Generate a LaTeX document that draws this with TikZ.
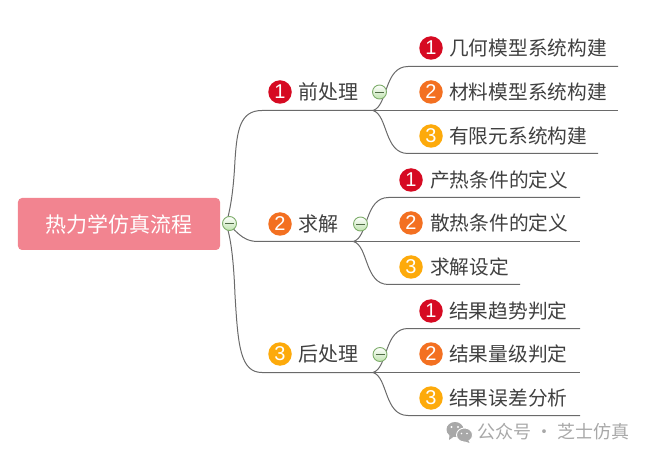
\documentclass[tikz,border=0pt]{standalone}
\usepackage{fontspec}
\setmainfont{Noto Sans CJK SC}
\newfontfamily\numfont{Liberation Sans}
\definecolor{linec}{HTML}{6A6A6A}
\definecolor{txt}{HTML}{404040}
\definecolor{rootc}{HTML}{F28490}
\definecolor{bred}{HTML}{D60A22}
\definecolor{borg}{HTML}{F37021}
\definecolor{byel}{HTML}{FDAA0B}
\definecolor{wm}{HTML}{A8A8A8}
\definecolor{foldb}{HTML}{7FAE6C}
\definecolor{foldf}{HTML}{BFE3AE}
\definecolor{foldm}{HTML}{4F6B45}
\tikzset{
  conn/.style={draw=linec,line width=1bp},
  lab/.style={anchor=west,inner sep=0pt,text=txt,font=\fontsize{19.7bp}{20bp}\selectfont},
  labb/.style={lab,font=\fontsize{20bp}{20bp}\selectfont},
  numb/.style={circle,minimum size=23.5bp,inner sep=0pt,text=white,font=\numfont\fontsize{20bp}{20bp}\selectfont},
  one/.style={numb,fill=bred},
  two/.style={numb,fill=borg},
  three/.style={numb,fill=byel},
  fold/.style={circle,draw=foldb,top color=white,bottom color=foldf,line width=0.9bp,minimum size=14bp,inner sep=0pt},
}
\newcommand{\foldmark}[1]{\draw[draw=foldm,line width=0.9bp] ([xshift=-4.5bp]#1.center) -- ([xshift=4.5bp]#1.center);}
\begin{document}
\begin{tikzpicture}[x=1bp,y=-1bp]
\useasboundingbox (0,0) rectangle (649,459);
% coordinates
\coordinate (j0) at (226,224);
\coordinate (j1) at (373,110.5);
\coordinate (j2) at (353.5,241.5);
\coordinate (j3) at (373,372.5);
\coordinate (a1) at (618,66.5);
\coordinate (a2) at (618,110.5);
\coordinate (a3) at (598,153.5);
\coordinate (b1) at (580,197.5);
\coordinate (b2) at (580,241.5);
\coordinate (b3) at (520,284.5);
\coordinate (c1) at (580,328.5);
\coordinate (c2) at (580,372.5);
\coordinate (c3) at (580,415.5);
% main connectors
\draw[conn] (j0) .. controls (232,205) and (234,180) .. (235,160) .. controls (237,130) and (240,110.5) .. (262,110.5) -- (j1);
\draw[conn] (j0) .. controls (236,228) and (240,241.5) .. (258,241.5) -- (j2);
\draw[conn] (j0) .. controls (232,240) and (234,270) .. (235,295) .. controls (238,345) and (240,372.5) .. (262,372.5) -- (j3);
% sub connectors
\draw[conn] (j1) .. controls (388,106) and (384,66.5) .. (408,66.5) -- (a1);
\draw[conn] (j1) -- (a2);
\draw[conn] (j1) .. controls (388,115) and (384,153.5) .. (408,153.5) -- (a3);
\draw[conn] (j2) .. controls (368.5,237) and (364.5,197.5) .. (388.5,197.5) -- (b1);
\draw[conn] (j2) -- (b2);
\draw[conn] (j2) .. controls (368.5,246) and (364.5,284.5) .. (388.5,284.5) -- (b3);
\draw[conn] (j3) .. controls (388,368) and (384,328.5) .. (408,328.5) -- (c1);
\draw[conn] (j3) -- (c2);
\draw[conn] (j3) .. controls (388,377) and (384,415.5) .. (408,415.5) -- (c3);
% root
\node[fill=rootc,rounded corners=4bp,minimum width=202bp,minimum height=52bp,inner sep=0pt,text=white,font=\fontsize{21bp}{21bp}\selectfont] (root) at (119,224) {热力学仿真流程};
% fold marks
\node[fold] (f0) at (229.5,223.5) {}; \foldmark{f0}
\node[fold] (f1) at (379.5,92) {}; \foldmark{f1}
\node[fold] (f2) at (360.5,224) {}; \foldmark{f2}
\node[fold] (f3) at (380,354.5) {}; \foldmark{f3}
% level 1
\node[one] (n1) at (280,92) {1};
\node[labb] (t1) at (298,92) {前处理};
\node[two] (n2) at (280,224) {2};
\node[labb] (t2) at (298,224) {求解};
\node[three] (n3) at (280,354) {3};
\node[labb] (t3) at (298,354) {后处理};
% leaves
\node[one] (a1n) at (431,48) {1};
\node[lab] (a1t) at (449,48) {几何模型系统构建};
\node[two] (a2n) at (431,92) {2};
\node[lab] (a2t) at (449,92) {材料模型系统构建};
\node[three] (a3n) at (431,136) {3};
\node[lab] (a3t) at (449,136) {有限元系统构建};
\node[one] (b1n) at (411,180) {1};
\node[lab] (b1t) at (430,180) {产热条件的定义};
\node[two] (b2n) at (411,223) {2};
\node[lab] (b2t) at (430,223) {散热条件的定义};
\node[three] (b3n) at (411,267) {3};
\node[lab] (b3t) at (430,267) {求解设定};
\node[one] (c1n) at (431,311) {1};
\node[lab] (c1t) at (449,311) {结果趋势判定};
\node[two] (c2n) at (431,354) {2};
\node[lab] (c2t) at (449,354) {结果量级判定};
\node[three] (c3n) at (431,398) {3};
\node[lab] (c3t) at (449,398) {结果误差分析};
% watermark
\fill[wm] (455,429.5) ellipse (8.5bp and 7.5bp);
\fill[wm] (449.5,435) -- (449,440) -- (454,436.5) -- cycle;
\fill[white] (454.5,428) circle (0.1bp);
\fill[wm,draw=white,line width=0.9bp] (464.5,435) ellipse (8bp and 7bp);
\fill[wm] (468,440) -- (469.5,443) -- (464,441) -- cycle;
\fill[white] (451.5,427) circle (1.1bp) (458,427) circle (1.1bp) (461.5,433.5) circle (0.9bp) (467,433.5) circle (0.9bp);
\node[anchor=west,inner sep=0pt,text=wm,font=\fontsize{18bp}{18bp}\selectfont] (wm) at (477,432) {公众号 · 芝士仿真};
\end{tikzpicture}
\end{document}
